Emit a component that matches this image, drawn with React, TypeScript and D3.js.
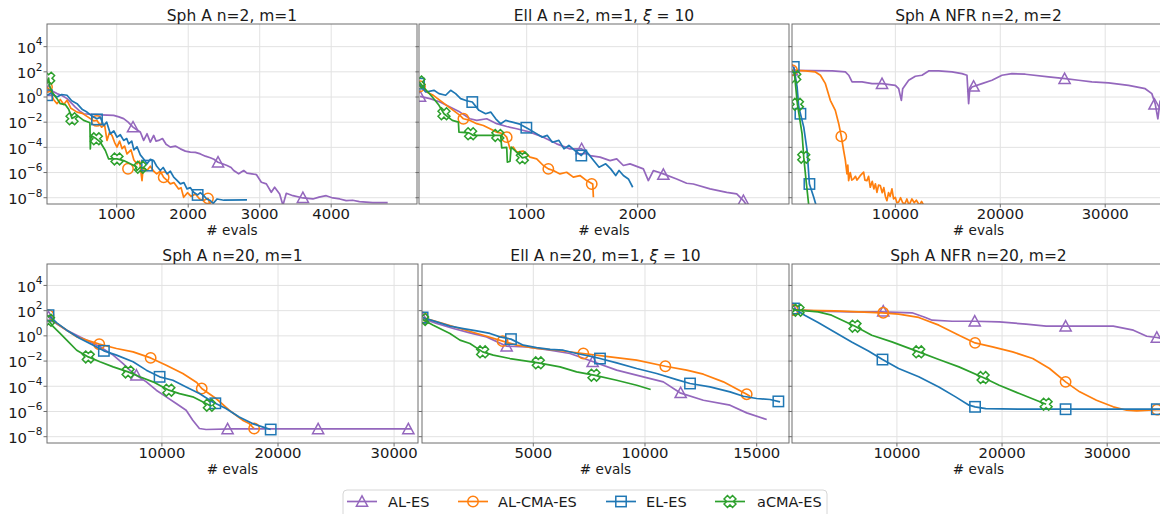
import React from "react";
import * as d3 from "d3";

type Pt = [number, number]; // [evaluations, log10(f)]

// ---------- Series meta ----------
const SERIES_NAMES = ["AL-ES", "AL-CMA-ES", "EL-ES", "aCMA-ES"];
const SERIES_COLORS = ["#9467bd", "#ff7f0e", "#1f77b4", "#2ca02c"];
const SERIES_MARKERS = ["tri", "circle", "square", "x"];
const Y_TICK_EXP = [-8, -6, -4, -2, 0, 2, 4];

// ---------- Panel 1: Sph A n=2, m=1 ----------
const p1_ALES: Pt[] = [[25,0.4],[90,0.5],[165,0.27],[240,0.1],[305,-0.13],[360,-0.45],[421,-0.8],[480,-1.1],[538,-1.33],[650,-1.38],[780,-1.42],[957,-1.46],[1030,-1.58],[1097,-1.72],[1160,-2.0],[1228,-2.39],[1280,-2.6],[1330,-2.78],[1377,-3.45],[1424,-2.92],[1470,-3.58],[1517,-3.05],[1550,-3.5],[1587,-3.45],[1640,-3.3],[1690,-3.75],[1750,-3.98],[1820,-3.9],[1890,-4.12],[1960,-4.3],[2030,-4.38],[2100,-4.4],[2170,-4.52],[2240,-4.7],[2309,-4.83],[2360,-4.95],[2417,-5.18],[2480,-5.3],[2543,-5.44],[2600,-5.6],[2636,-5.84],[2706,-6.1],[2776,-5.84],[2822,-6.05],[2890,-6.1],[2953,-6.16],[3023,-6.77],[3093,-6.9],[3162,-7.57],[3209,-7.17],[3279,-7.7],[3325,-8.6],[3372,-7.65],[3465,-7.84],[3604,-8.02],[3744,-8.1],[3830,-7.95],[3930,-7.84],[4023,-8.02],[4120,-8.1],[4209,-8.23],[4300,-8.2],[4395,-8.31],[4581,-8.39],[4790,-8.39]];
const p1_ALES_mk: Pt[] = [[48,0.5],[1228,-2.39],[2417,-5.18],[3604,-8.0]];
const p1_ALCMA: Pt[] = [[25,0.8],[70,0.5],[116,-0.2],[165,-0.53],[210,-0.2],[260,-0.6],[305,-0.26],[360,-0.9],[445,-1.2],[520,-1.3],[600,-1.6],[680,-1.9],[724,-1.86],[790,-2.4],[830,-2.2],[864,-3.45],[900,-2.8],[934,-3.05],[970,-3.6],[1004,-3.98],[1040,-3.5],[1075,-4.1],[1110,-3.9],[1144,-4.52],[1200,-4.2],[1240,-5.0],[1284,-5.31],[1320,-5.1],[1354,-6.64],[1370,-5.6],[1424,-5.84],[1470,-5.5],[1517,-5.9],[1560,-6.1],[1610,-5.9],[1657,-6.38],[1700,-6.6],[1750,-6.9],[1800,-6.8],[1866,-7.3],[1900,-7.2],[1936,-7.97],[1990,-7.6],[2040,-7.9],[2100,-7.7],[2160,-8.1],[2216,-8.23],[2277,-8.05],[2309,-8.6]];
const p1_ALCMA_mk: Pt[] = [[25,0.8],[721,-1.9],[1158,-5.7],[1657,-6.38],[2277,-8.05]];
const p1_ELES: Pt[] = [[25,0.14],[80,0.3],[165,0],[230,0.2],[305,0.14],[370,-0.3],[445,-0.53],[520,-1.0],[584,-1.2],[650,-1.5],[724,-1.73],[770,-1.6],[818,-2.26],[860,-2.0],[911,-2.92],[960,-2.7],[1004,-3.19],[1050,-3.0],[1097,-3.45],[1140,-3.3],[1167,-3.72],[1210,-3.5],[1240,-4.2],[1284,-3.95],[1330,-4.6],[1377,-4.92],[1424,-5.31],[1470,-4.95],[1517,-5.05],[1560,-5.5],[1610,-5.84],[1650,-5.6],[1703,-6.11],[1750,-5.9],[1797,-6.37],[1840,-6.6],[1890,-6.9],[1940,-6.8],[1983,-7.3],[2030,-7.2],[2076,-7.57],[2132,-7.78],[2170,-7.6],[2216,-7.84],[2260,-8.1],[2309,-8.23],[2350,-8.45],[2403,-8.1],[2500,-8.2],[2822,-8.18]];
const p1_ELES_mk: Pt[] = [[25,0.14],[724,-1.78],[1424,-5.45],[2132,-7.78]];
const p1_ACMA: Pt[] = [[25,1.2],[48,1.5],[60,0.9],[95,0.4],[165,-0.13],[211,-0.53],[280,-0.6],[330,-1.0],[375,-1.7],[445,-1.46],[538,-1.86],[608,-2.0],[625,-2.05],[631,-4.12],[640,-3.05],[715,-3.32],[771,-3.59],[841,-4.25],[887,-4.92],[1004,-4.92],[1097,-5.05],[1190,-5.31],[1260,-5.5],[1284,-5.84],[1330,-5.58],[1400,-5.7]];
const p1_ACMA_mk: Pt[] = [[48,1.5],[375,-1.73],[715,-3.32],[1004,-4.92],[1330,-5.58]];

// ---------- Panel 2: Ell A n=2, m=1, xi=10 ----------
const p2_ALES: Pt[] = [[39,0.05],[129,-0.13],[219,-0.4],[309,-0.8],[399,-1.2],[489,-1.73],[550,-1.86],[640,-1.73],[730,-2.12],[820,-2.34],[910,-2.52],[1030,-2.79],[1150,-3.19],[1270,-3.72],[1390,-4.12],[1495,-4.12],[1571,-4.65],[1661,-4.78],[1751,-5.05],[1811,-4.91],[1871,-5.44],[1931,-5.31],[2051,-5.71],[2096,-6.64],[2141,-5.84],[2231,-6.11],[2351,-6.51],[2441,-6.85],[2501,-6.91],[2652,-7.3],[2802,-7.57],[2892,-7.7],[2952,-8.23],[2982,-8.6]];
const p2_ALES_mk: Pt[] = [[39,0.05],[1495,-4.12],[2231,-6.16],[2952,-8.23]];
const p2_ALCMA: Pt[] = [[39,0.85],[99,0.4],[159,0.13],[219,-0.27],[279,-0.66],[339,-1.06],[399,-1.46],[430,-1.73],[490,-1.86],[550,-2.12],[610,-2.26],[670,-2.52],[730,-2.79],[790,-2.92],[820,-3.19],[850,-4.12],[880,-3.98],[910,-4.38],[970,-4.3],[1030,-4.78],[1090,-4.91],[1150,-5.44],[1195,-5.71],[1240,-5.84],[1300,-6.11],[1360,-5.98],[1420,-6.37],[1480,-6.24],[1540,-6.64],[1595,-6.91],[1601,-7.97]];
const p2_ALCMA_mk: Pt[] = [[39,0.85],[430,-1.73],[820,-3.19],[1195,-5.71],[1586,-6.91]];
const p2_ELES: Pt[] = [[30,1.06],[90,0.4],[165,0.53],[210,0.27],[270,0.14],[315,0.53],[360,0.27],[405,-0.13],[460,-0.3],[510,-0.4],[570,-1.06],[630,-1.33],[676,-1.2],[721,-1.73],[766,-2.13],[811,-1.86],[871,-2.0],[931,-2.13],[997,-2.44],[1066,-2.79],[1141,-3.19],[1186,-3.05],[1231,-3.59],[1290,-3.45],[1336,-4.12],[1380,-3.85],[1440,-4.3],[1492,-4.65],[1532,-4.25],[1592,-4.92],[1652,-5.58],[1712,-5.31],[1757,-5.71],[1802,-6.24],[1832,-5.84],[1871,-6.24],[1916,-6.51],[1955,-7.17]];
const p2_ELES_mk: Pt[] = [[30,1.06],[510,-0.4],[997,-2.44],[1492,-4.65]];
const p2_ACMA: Pt[] = [[30,1.2],[90,0.6],[150,0],[210,-0.66],[255,-1.33],[330,-1.86],[385,-2.0],[390,-2.79],[480,-2.85],[495,-2.92],[520,-3.05],[766,-3.05],[775,-4.04],[820,-4.0],[826,-5.18],[850,-5.1],[860,-3.98],[900,-4.3],[961,-4.83],[1000,-4.75]];
const p2_ACMA_mk: Pt[] = [[30,1.2],[255,-1.33],[495,-2.92],[740,-3.05],[961,-4.83]];

// ---------- Panel 3: Sph A NFR n=2, m=2 ----------
const p3_ALES: Pt[] = [[157,2.12],[2000,2.1],[4000,2.08],[5238,1.99],[5555,1.73],[5873,1.2],[6825,1.2],[7778,1.06],[8730,1.06],[10000,0.93],[10318,0.66],[10572,-0.27],[10700,0.66],[11270,1.33],[11905,1.65],[12540,1.73],[13175,2.07],[14127,2.07],[15397,1.99],[16350,1.86],[16826,1.73],[16985,-0.53],[17080,0.53],[17302,0.8],[18255,1.06],[19207,1.33],[20160,1.73],[21112,1.86],[22382,1.81],[24605,1.6],[26192,1.46],[27462,1.33],[28732,1.2],[30320,1.12],[32225,0.93],[33812,0.66],[34447,0.27],[34765,-0.53],[35019,-1.73],[35240,-0.27]];
const p3_ALES_mk: Pt[] = [[157,2.12],[8730,1.06],[17460,0.85],[26130,1.46],[34700,-0.58]];
const p3_ALCMA: Pt[] = [[157,2.12],[1427,2.07],[2380,1.99],[2856,1.73],[3333,1.06],[3801,-0.26],[4278,-1.06],[4603,-2.12],[4849,-3.13],[5071,-4.25],[5230,-5.0],[5389,-6.1],[5470,-5.4],[5548,-6.64],[5700,-6.0],[5850,-6.6],[6024,-6.5],[6200,-6.3],[6350,-6.6],[6500,-6.43],[6700,-6.2],[6976,-5.97],[7100,-6.6],[7294,-6.64],[7450,-6.3],[7611,-7.17],[7800,-6.7],[7950,-7.3],[8100,-6.9],[8246,-7.57],[8400,-7.0],[8564,-7.03],[8750,-7.6],[8900,-7.2],[9050,-7.9],[9199,-8.23],[9350,-7.6],[9500,-7.9],[9675,-7.3],[9830,-8.1],[9993,-7.97],[10150,-8.4],[10310,-8.36],[10500,-8.0],[10700,-8.4],[10900,-8.5],[11100,-8.1],[11300,-8.6],[11580,-8.1],[11800,-8.4],[12000,-8.2],[12300,-8.6],[12500,-8.3],[12700,-8.6]];
const p3_ALCMA_mk: Pt[] = [[157,2.12],[4849,-3.13]];
const p3_ELES: Pt[] = [[317,2.39],[635,0.8],[793,-0.8],[952,-1.33],[1270,-2.39],[1587,-4.25],[1810,-6.91],[2222,-7.97],[2444,-8.6]];
const p3_ELES_mk: Pt[] = [[317,2.39],[952,-1.33],[1810,-6.91]];
const p3_ACMA: Pt[] = [[317,1.99],[413,1.6],[667,-0.58],[1111,-2.92],[1270,-4.78],[1492,-6.64],[1746,-8.6]];
const p3_ACMA_mk: Pt[] = [[413,1.6],[667,-0.58],[1270,-4.78]];

// ---------- Panel 4: Sph A n=20, m=1 ----------
const p4_ALES: Pt[] = [[229,1.51],[658,1.11],[1229,0.77],[1800,0.45],[2657,0.05],[3514,-0.34],[4657,-0.87],[5800,-1.53],[6657,-2.2],[7229,-2.72],[7800,-3.12],[8657,-3.65],[9514,-4.31],[10371,-4.84],[11229,-5.37],[12086,-5.9],[12657,-6.69],[13228,-7.35],[13800,-7.43],[16085,-7.38],[31514,-7.38]];
const p4_ALES_mk: Pt[] = [[229,1.51],[7800,-3.12],[15657,-7.38],[23457,-7.38],[31228,-7.38]];
const p4_ALCMA: Pt[] = [[229,1.64],[943,0.98],[1800,0.45],[2657,-0.08],[3514,-0.34],[4600,-0.66],[6086,-1.0],[7514,-1.27],[9029,-1.75],[10371,-2.33],[11800,-2.99],[13000,-3.7],[13428,-4.18],[14657,-4.97],[15800,-5.9],[16943,-6.69],[17514,-6.96],[17943,-7.35]];
const p4_ALCMA_mk: Pt[] = [[229,1.64],[4600,-0.66],[9029,-1.75],[13428,-4.18],[17943,-7.35]];
const p4_ELES: Pt[] = [[229,1.64],[943,1.03],[1800,0.45],[2943,-0.21],[4086,-0.74],[5000,-1.19],[6086,-1.53],[7514,-2.06],[8657,-2.72],[9800,-3.25],[10943,-3.52],[12086,-4.05],[13228,-4.58],[14371,-5.24],[15514,-5.77],[16657,-6.43],[17800,-6.96],[18657,-7.22],[19371,-7.43]];
const p4_ELES_mk: Pt[] = [[229,1.64],[5000,-1.19],[9800,-3.25],[14600,-5.35],[19371,-7.43]];
const p4_ACMA: Pt[] = [[229,1.24],[658,0.71],[1229,0.19],[1800,-0.34],[2657,-1.14],[3657,-1.67],[4657,-2.06],[5800,-2.46],[7086,-2.86],[8086,-3.25],[9228,-3.65],[10600,-4.31],[11514,-4.58],[12657,-4.84],[14086,-5.5],[14300,-5.55]];
const p4_ACMA_mk: Pt[] = [[229,1.24],[3657,-1.67],[7086,-2.86],[10600,-4.31],[14086,-5.5]];

// ---------- Panel 5: Ell A n=20, m=1, xi=10 ----------
const p5_ALES: Pt[] = [[45,1.38],[672,0.98],[1418,0.58],[2164,0.24],[2910,-0.08],[3806,-0.82],[4701,-0.87],[5746,-1.14],[6642,-1.4],[7686,-2.06],[8731,-2.72],[9925,-3.25],[10820,-3.65],[11567,-4.52],[12612,-5.11],[13806,-5.5],[14552,-6.11],[15448,-6.64]];
const p5_ALES_mk: Pt[] = [[45,1.38],[3806,-0.82],[7657,-2.06],[11597,-4.52]];
const p5_ALCMA: Pt[] = [[45,1.46],[970,0.98],[1866,0.5],[2761,0.05],[3627,-0.42],[4254,-0.74],[5149,-1.0],[6045,-1.14],[7239,-1.4],[8433,-1.67],[9627,-1.93],[10910,-2.41],[11866,-2.72],[12612,-3.04],[13507,-3.65],[14552,-4.63],[14701,-4.79]];
const p5_ALCMA_mk: Pt[] = [[45,1.46],[3627,-0.42],[7239,-1.4],[10910,-2.41],[14552,-4.63]];
const p5_ELES: Pt[] = [[45,1.46],[672,1.11],[1269,0.77],[1866,0.58],[2463,0.4],[3060,0.19],[3507,-0.08],[4000,-0.26],[4552,-0.74],[5149,-0.93],[5746,-1.08],[6343,-1.14],[6940,-1.4],[7537,-1.61],[7985,-1.8],[8731,-2.14],[9627,-2.59],[10522,-2.99],[11418,-3.47],[12015,-3.78],[12910,-4.05],[13806,-4.44],[14403,-4.79],[15000,-4.97],[15597,-5.05],[16045,-5.24]];
const p5_ELES_mk: Pt[] = [[45,1.46],[4000,-0.26],[7985,-1.8],[12015,-3.78],[15970,-5.2]];
const p5_ACMA: Pt[] = [[45,1.3],[522,0.85],[1269,0.19],[1716,-0.34],[2164,-0.61],[2731,-1.27],[3209,-1.53],[3955,-1.8],[5224,-2.14],[6194,-2.46],[6940,-2.86],[7716,-3.12],[8731,-3.52],[9627,-3.92],[10254,-4.26]];
const p5_ACMA_mk: Pt[] = [[45,1.3],[2731,-1.27],[5224,-2.14],[7716,-3.12]];

// ---------- Panel 6: Sph A NFR n=20, m=2 ----------
const p6_ALES: Pt[] = [[111,2.09],[2504,1.96],[5693,1.9],[8565,1.9],[11436,1.83],[12712,1.46],[13350,1.24],[15264,1.16],[17400,1.16],[19730,1.11],[22281,0.93],[24194,0.77],[26045,0.77],[30576,0.77],[32490,0.45],[33766,-0.03],[34723,-0.13],[35201,-0.21]];
const p6_ALES_mk: Pt[] = [[111,2.09],[8700,1.95],[17400,1.16],[26045,0.77],[34723,-0.13]];
const p6_ALCMA: Pt[] = [[111,2.04],[4098,1.98],[8565,1.83],[10160,1.72],[12073,1.46],[13987,0.85],[15901,0.05],[17432,-0.56],[19091,-0.87],[21005,-1.27],[22919,-1.8],[24514,-2.59],[26045,-3.65],[27385,-4.44],[28980,-5.11],[30576,-5.63],[31851,-5.9],[32808,-5.95],[34723,-5.85],[35201,-5.85]];
const p6_ALCMA_mk: Pt[] = [[111,2.04],[8700,1.83],[17432,-0.56],[26045,-3.65],[34723,-5.85]];
const p6_ELES: Pt[] = [[206,2.17],[1227,1.64],[2504,1.06],[4098,0.29],[5693,-0.48],[7289,-1.2],[8628,-1.88],[10160,-2.59],[12073,-3.25],[13987,-4.05],[15582,-4.84],[16858,-5.5],[17432,-5.63],[18453,-5.77],[21643,-5.82],[35201,-5.82]];
const p6_ELES_mk: Pt[] = [[206,2.17],[8628,-1.88],[17432,-5.63],[26045,-5.82],[34723,-5.82]];
const p6_ACMA: Pt[] = [[111,2.04],[590,2.04],[2504,1.9],[3780,1.64],[6013,0.77],[7608,0.05],[9522,-0.48],[12073,-1.27],[13987,-1.88],[15901,-2.46],[18198,-3.31],[19730,-3.92],[21643,-4.58],[24194,-5.42]];
const p6_ACMA_mk: Pt[] = [[590,2.04],[6013,0.77],[12073,-1.27],[18198,-3.31],[24194,-5.42]];

// ---------- Tick values ----------
const p1_xTicks = [1000, 2000, 3000, 4000];
const p2_xTicks = [1000, 2000];
const p3_xTicks = [10000, 20000, 30000];
const p4_xTicks = [10000, 20000, 30000];
const p5_xTicks = [5000, 10000, 15000];
const p6_xTicks = [10000, 20000, 30000];

type TitlePart = { t: string; it?: boolean };
interface Panel {
  title: TitlePart[];
  left: number; right: number; top: number; bottom: number;
  xDomain: [number, number];
  xTicks: number[];
  yDomainExp: [number, number];
  yLabels: boolean;
  series: { line: Pt[]; mk: Pt[] }[];
}

const ROW1 = { top: 24, bottom: 204 };
const ROW2 = { top: 264, bottom: 443 };

const panels: Panel[] = [
  { title: [{ t: "Sph A n=2, m=1" }], left: 47, right: 417, ...ROW1, xDomain: [25, 5200], xTicks: p1_xTicks, yDomainExp: [-8.5, 5.8], yLabels: true,
    series: [{ line: p1_ALES, mk: p1_ALES_mk }, { line: p1_ALCMA, mk: p1_ALCMA_mk }, { line: p1_ELES, mk: p1_ELES_mk }, { line: p1_ACMA, mk: p1_ACMA_mk }] },
  { title: [{ t: "Ell A n=2, m=1, " }, { t: "ξ", it: true }, { t: " = 10" }], left: 419, right: 789, ...ROW1, xDomain: [30, 3363], xTicks: p2_xTicks, yDomainExp: [-8.5, 5.8], yLabels: false,
    series: [{ line: p2_ALES, mk: p2_ALES_mk }, { line: p2_ALCMA, mk: p2_ALCMA_mk }, { line: p2_ELES, mk: p2_ELES_mk }, { line: p2_ACMA, mk: p2_ACMA_mk }] },
  { title: [{ t: "Sph A NFR n=2, m=2" }], left: 792, right: 1165, ...ROW1, xDomain: [150, 35700], xTicks: p3_xTicks, yDomainExp: [-8.5, 5.8], yLabels: false,
    series: [{ line: p3_ALES, mk: p3_ALES_mk }, { line: p3_ALCMA, mk: p3_ALCMA_mk }, { line: p3_ELES, mk: p3_ELES_mk }, { line: p3_ACMA, mk: p3_ACMA_mk }] },
  { title: [{ t: "Sph A n=20, m=1" }], left: 47, right: 418, ...ROW2, xDomain: [100, 32060], xTicks: p4_xTicks, yDomainExp: [-8.5, 5.7], yLabels: true,
    series: [{ line: p4_ALES, mk: p4_ALES_mk }, { line: p4_ALCMA, mk: p4_ALCMA_mk }, { line: p4_ELES, mk: p4_ELES_mk }, { line: p4_ACMA, mk: p4_ACMA_mk }] },
  { title: [{ t: "Ell A n=20, m=1, " }, { t: "ξ", it: true }, { t: " = 10" }], left: 422, right: 789, ...ROW2, xDomain: [18, 16446], xTicks: p5_xTicks, yDomainExp: [-8.5, 5.7], yLabels: false,
    series: [{ line: p5_ALES, mk: p5_ALES_mk }, { line: p5_ALCMA, mk: p5_ALCMA_mk }, { line: p5_ELES, mk: p5_ELES_mk }, { line: p5_ACMA, mk: p5_ACMA_mk }] },
  { title: [{ t: "Sph A NFR n=20, m=2" }], left: 792, right: 1165, ...ROW2, xDomain: [20, 35500], xTicks: p6_xTicks, yDomainExp: [-8.5, 5.7], yLabels: false,
    series: [{ line: p6_ALES, mk: p6_ALES_mk }, { line: p6_ALCMA, mk: p6_ALCMA_mk }, { line: p6_ELES, mk: p6_ELES_mk }, { line: p6_ACMA, mk: p6_ACMA_mk }] },
];

const FONT = "'DejaVu Sans', Verdana, sans-serif";
const FRAME = "#6e6e6e";
const GRID = "#e2e2e2";
const LW = 1.7;
const TXT = "#1a1a1a";

function xPolygon(cx: number, cy: number, s: number): string {
  const w = 0.2, h = 0.5;
  const pts: [number, number][] = [[w, w], [w, h], [-w, h], [-w, w], [-h, w], [-h, -w], [-w, -w], [-w, -h], [w, -h], [w, -w], [h, -w], [h, w]];
  const c = Math.SQRT1_2;
  return pts.map(([x, y]) => {
    const rx = (x - y) * c, ry = (x + y) * c;
    return `${cx + rx * s},${cy + ry * s}`;
  }).join(" ");
}

function Marker({ kind, x, y, color }: { kind: string; x: number; y: number; color: string }) {
  const common = { fill: "none", stroke: color, strokeWidth: 1.5 };
  if (kind === "tri") {
    const s = 5.6;
    return <polygon points={`${x},${y - s} ${x - s},${y + s * 0.85} ${x + s},${y + s * 0.85}`} {...common} />;
  }
  if (kind === "circle") return <circle cx={x} cy={y} r={5.2} {...common} />;
  if (kind === "square") return <rect x={x - 5.2} y={y - 5.2} width={10.4} height={10.4} {...common} />;
  return <polygon points={xPolygon(x, y, 12)} {...common} />;
}

function PanelView({ p, idx }: { p: Panel; idx: number }) {
  const x = d3.scaleLinear().domain(p.xDomain).range([p.left, p.right]);
  const y = d3.scaleLog().domain([Math.pow(10, p.yDomainExp[0]), Math.pow(10, p.yDomainExp[1])]).range([p.bottom, p.top]);
  const line = d3.line<Pt>().x(d => x(d[0])).y(d => y(Math.pow(10, d[1])));
  const cx = (p.left + p.right) / 2;
  const clipId = `clip-${idx}`;
  return (
    <g>
      <defs>
        <clipPath id={clipId}>
          <rect x={p.left} y={p.top} width={p.right - p.left} height={p.bottom - p.top} />
        </clipPath>
      </defs>
      {p.xTicks.map(t => (
        <line key={`gx${t}`} x1={x(t)} x2={x(t)} y1={p.top} y2={p.bottom} stroke={GRID} strokeWidth={1} />
      ))}
      {Y_TICK_EXP.map(e => (
        <line key={`gy${e}`} x1={p.left} x2={p.right} y1={y(Math.pow(10, e))} y2={y(Math.pow(10, e))} stroke={GRID} strokeWidth={1} />
      ))}
      <g clipPath={`url(#${clipId})`}>
        {p.series.map((s, i) => (
          <g key={i}>
            <path d={line(s.line) || ""} fill="none" stroke={SERIES_COLORS[i]} strokeWidth={LW} strokeLinejoin="round" />
            {s.mk.map((m, j) => (
              <Marker key={j} kind={SERIES_MARKERS[i]} x={x(m[0])} y={y(Math.pow(10, m[1]))} color={SERIES_COLORS[i]} />
            ))}
          </g>
        ))}
      </g>
      <rect x={p.left} y={p.top} width={p.right - p.left} height={p.bottom - p.top} fill="none" stroke={FRAME} strokeWidth={1} />
      {Y_TICK_EXP.map(e => {
        const yy = y(Math.pow(10, e));
        return (
          <g key={`yt${e}`}>
            <line x1={p.left - 3.5} x2={p.left} y1={yy} y2={yy} stroke={FRAME} strokeWidth={1} />
            {p.yLabels && (
              <text x={p.left - 4.5} y={yy + 6.3} textAnchor="end" fontSize={14.8} fill={TXT}>
                <tspan>10</tspan>
                <tspan dy={-7.5} fontSize={10.5}>{e < 0 ? `\u2212${-e}` : `${e}`}</tspan>
              </text>
            )}
          </g>
        );
      })}
      {p.xTicks.map(t => (
        <g key={`xt${t}`}>
          <line x1={x(t)} x2={x(t)} y1={p.bottom} y2={p.bottom + 3.5} stroke={FRAME} strokeWidth={1} />
          <text x={x(t)} y={p.bottom + 15} textAnchor="middle" fontSize={14.8} fill={TXT}>{t}</text>
        </g>
      ))}
      <text x={cx} y={p.bottom + 30.5} textAnchor="middle" fontSize={13.6} fill={TXT}># evals</text>
      <text x={(p.left + p.right) / 2} y={p.top - 3.5} textAnchor="middle" fontSize={15.5} fill={TXT}>
        {p.title.map((tp, k) => (
          <tspan key={k} fontStyle={tp.it ? "italic" : "normal"}>{tp.t}</tspan>
        ))}
      </text>
    </g>
  );
}

const LEGEND_ITEMS = [
  { x0: 347, tx: 388 },
  { x0: 458, tx: 498 },
  { x0: 606, tx: 646 },
  { x0: 715, tx: 757 },
];

export default function App() {
  return (
    <svg width={1160} height={514} style={{ position: "absolute", left: 0, top: 0, background: "#fff" }} fontFamily={FONT}>
      <rect x={0} y={0} width={1160} height={514} fill="#fff" />
      {panels.map((p, i) => <PanelView key={i} p={p} idx={i} />)}
      <rect x={343} y={490} width={484} height={32} rx={4} fill="#fff" stroke="#d6d6d6" strokeWidth={1} />
      {SERIES_NAMES.map((name, i) => {
        const it = LEGEND_ITEMS[i];
        const ly = 501.5;
        return (
          <g key={name}>
            <line x1={it.x0} x2={it.x0 + 30} y1={ly} y2={ly} stroke={SERIES_COLORS[i]} strokeWidth={LW} />
            <Marker kind={SERIES_MARKERS[i]} x={it.x0 + 15} y={ly} color={SERIES_COLORS[i]} />
            <text x={it.tx} y={ly + 5.3} fontSize={14.5} fill={TXT}>{name}</text>
          </g>
        );
      })}
    </svg>
  );
}
